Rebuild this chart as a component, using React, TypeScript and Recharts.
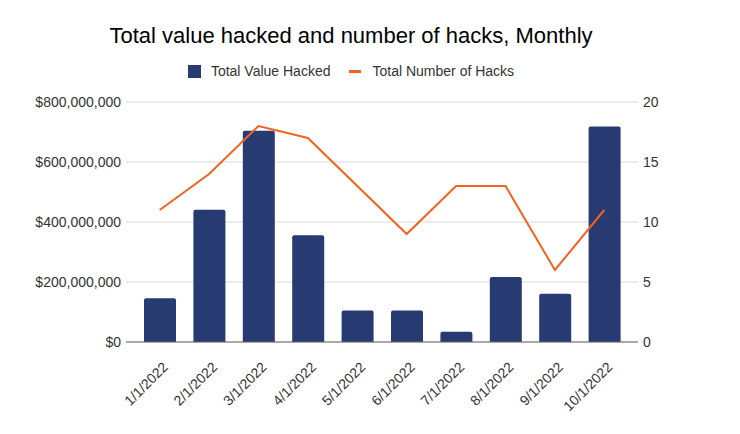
import React from 'react';
import {
  ComposedChart,
  Bar,
  Line,
  XAxis,
  YAxis,
  CartesianGrid
} from 'recharts';

const months = ['1/1/2022', '2/1/2022', '3/1/2022', '4/1/2022', '5/1/2022', '6/1/2022', '7/1/2022', '8/1/2022', '9/1/2022', '10/1/2022'];
const valueHacked = [146000000, 441000000, 704000000, 356000000, 105000000, 105000000, 34000000, 217000000, 161000000, 718000000];
const numberOfHacks = [11, 14, 18, 17, 13, 9, 13, 13, 6, 11];
const valueTicks = [0, 200000000, 400000000, 600000000, 800000000];
const countTicks = [0, 5, 10, 15, 20];
const seriesNames = ['Total Value Hacked', 'Total Number of Hacks'];

const NAVY = '#283a72';
const ORANGE = '#f4621f';
const FONT = '"Liberation Sans", Arial, sans-serif';

const data = months.map((m, i) => ({
  month: m,
  value: valueHacked[i],
  hacks: numberOfHacks[i]
}));

const fmtDollar = (v: number) => '$' + v.toLocaleString('en-US');

const MonthTick = (props: any) => {
  const { x, y, payload } = props;
  return (
    <g transform={`translate(${x + 2},${y + 11})`}>
      <text
        x={0}
        y={0}
        dy="0.71em"
        textAnchor="end"
        transform="rotate(-45)"
        fill="#333"
        fontSize={14}
        fontFamily={FONT}
      >
        {payload.value}
      </text>
    </g>
  );
};

export default function App() {
  return (
    <div style={{ position: 'absolute', left: 0, top: 0, width: 740, height: 434, background: '#fff' }}>
      <div
        style={{
          position: 'absolute',
          left: 0,
          top: 23,
          width: 702,
          textAlign: 'center',
          fontFamily: FONT,
          fontSize: 22,
          color: '#000'
        }}
      >
        Total value hacked and number of hacks, Monthly
      </div>
      <div
        style={{
          position: 'absolute',
          left: 0,
          top: 63,
          width: 702,
          display: 'flex',
          justifyContent: 'center',
          alignItems: 'center',
          fontFamily: FONT,
          fontSize: 14,
          color: '#333'
        }}
      >
        <div style={{ display: 'flex', alignItems: 'center', marginRight: 19 }}>
          <span style={{ width: 13, height: 13, background: NAVY, display: 'inline-block', marginRight: 10 }} />
          <span>{seriesNames[0]}</span>
        </div>
        <div style={{ display: 'flex', alignItems: 'center' }}>
          <span style={{ width: 12, height: 3, background: ORANGE, display: 'inline-block', marginRight: 11 }} />
          <span>{seriesNames[1]}</span>
        </div>
      </div>
      <ComposedChart
        width={740}
        height={434}
        data={data}
        margin={{ top: 102, right: 0, bottom: 0, left: 0 }}
        style={{ position: 'absolute', left: 0, top: 0 }}
      >
        <CartesianGrid vertical={false} stroke="#d9d9d9" yAxisId="left" />
        <XAxis
          dataKey="month"
          height={92}
          padding={{ left: 9, right: 9 }}
          axisLine={{ stroke: '#666' }}
          tickLine={false}
          interval={0}
          tick={<MonthTick />}
        />
        <YAxis
          yAxisId="left"
          width={126}
          domain={[0, 800000000]}
          ticks={valueTicks}
          tickFormatter={fmtDollar}
          axisLine={false}
          tickLine={false}
          tickSize={0}
          tickMargin={5}
          tick={{ fill: '#333', fontSize: 14, fontFamily: FONT }}
        />
        <YAxis
          yAxisId="right"
          orientation="right"
          width={102}
          domain={[0, 20]}
          ticks={countTicks}
          axisLine={false}
          tickLine={false}
          tickSize={0}
          tickMargin={5}
          tick={{ fill: '#333', fontSize: 14, fontFamily: FONT }}
        />
        <Bar
          yAxisId="left"
          dataKey="value"
          name={seriesNames[0]}
          fill={NAVY}
          barSize={32}
          radius={[2, 2, 0, 0]}
          isAnimationActive={false}
        />
        <Line
          yAxisId="right"
          dataKey="hacks"
          name={seriesNames[1]}
          stroke={ORANGE}
          strokeWidth={2}
          dot={false}
          isAnimationActive={false}
        />
      </ComposedChart>
    </div>
  );
}
